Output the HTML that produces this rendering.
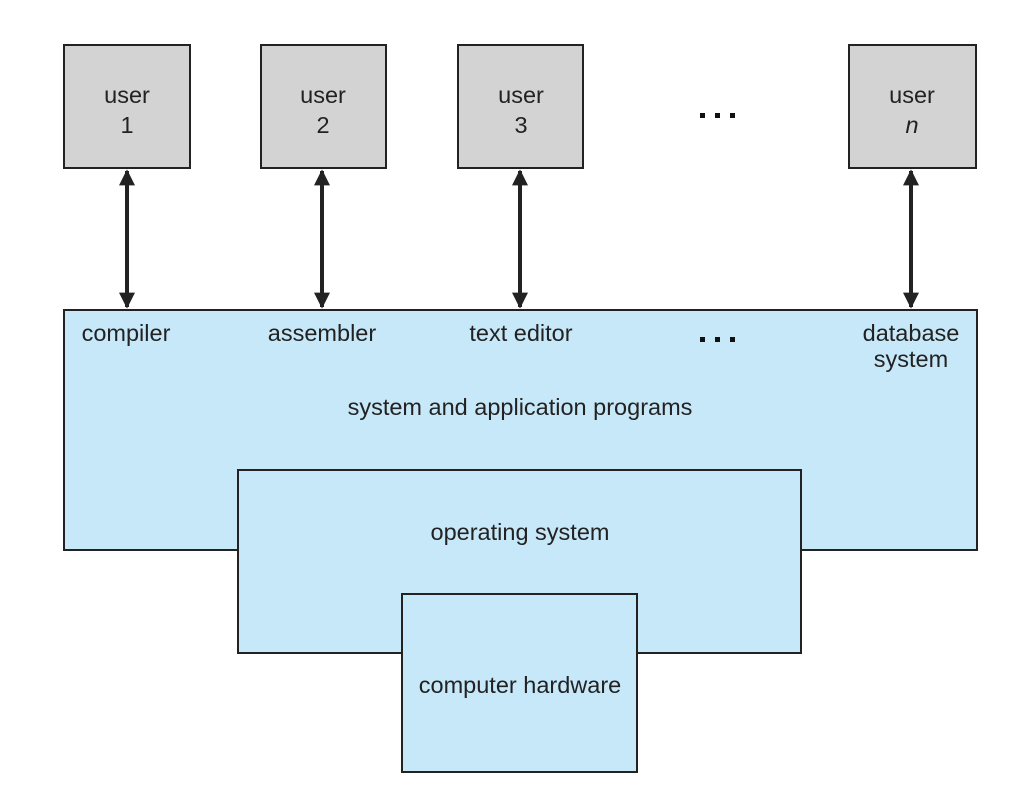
<!DOCTYPE html>
<html><head><meta charset="utf-8"><style>html,body{margin:0;padding:0;background:#fff}svg{display:block}</style></head>
<body>
<svg width="1033" height="807" viewBox="0 0 1033 807" xmlns="http://www.w3.org/2000/svg" font-family="Liberation Sans, sans-serif" font-size="23.5" fill="#222">
<defs>
<marker id="a" viewBox="0 0 10 10" refX="9" refY="5" markerWidth="4" markerHeight="4" orient="auto-start-reverse"><path d="M0,0L10,5L0,10z" fill="#222"/></marker>
</defs>
<g stroke="#222" stroke-width="2">
<rect x="64" y="45" width="126" height="123" fill="#d3d3d3"/>
<rect x="261" y="45" width="125" height="123" fill="#d3d3d3"/>
<rect x="458" y="45" width="125" height="123" fill="#d3d3d3"/>
<rect x="849" y="45" width="127" height="123" fill="#d3d3d3"/>
<rect x="64" y="310" width="913" height="240" fill="#c7e8f8"/>
<rect x="238" y="470" width="563" height="183" fill="#c7e8f8"/>
<rect x="402" y="594" width="235" height="178" fill="#c7e8f8"/>
<g stroke-width="4" marker-start="url(#a)" marker-end="url(#a)">
<line x1="127" y1="171" x2="127" y2="307"/>
<line x1="322" y1="171" x2="322" y2="307"/>
<line x1="520" y1="171" x2="520" y2="307"/>
<line x1="911" y1="171" x2="911" y2="307"/>
</g>
</g>
<g fill="#111">
<rect x="700" y="113" width="5" height="5"/><rect x="715" y="113" width="5" height="5"/><rect x="730" y="113" width="5" height="5"/>
<rect x="700" y="337" width="5" height="5"/><rect x="715" y="337" width="5" height="5"/><rect x="730" y="337" width="5" height="5"/>
</g>
<g text-anchor="middle">
<text x="127" y="103">user</text><text x="127" y="133">1</text>
<text x="323" y="103">user</text><text x="323" y="133">2</text>
<text x="521" y="103">user</text><text x="521" y="133">3</text>
<text x="912" y="103">user</text><text x="912" y="133" font-style="italic">n</text>
<text x="126" y="341">compiler</text>
<text x="322" y="341">assembler</text>
<text x="521" y="341">text editor</text>
<text x="911" y="341">database</text>
<text x="911" y="367">system</text>
<text x="520" y="415">system and application programs</text>
<text x="520" y="540">operating system</text>
<text x="520" y="693">computer hardware</text>
</g>
</svg>
</body></html>
